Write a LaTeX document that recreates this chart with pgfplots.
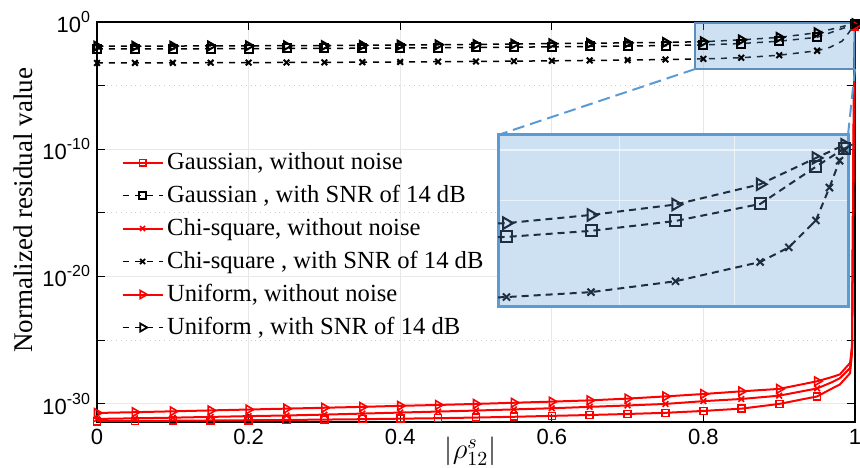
\documentclass[border=0pt]{standalone}
\usepackage{fontspec}
\setmainfont{Liberation Serif}
\setsansfont{Liberation Sans}
\usepackage{pgfplots}
\pgfplotsset{compat=1.18}
\usepackage{pgfplotstable}

\definecolor{insetblue}{RGB}{91,155,213}
\definecolor{boxedge}{RGB}{96,140,186}
\definecolor{insetfill}{RGB}{206,225,242}
\definecolor{slate}{RGB}{30,46,64}
\newcommand{\tp}[1]{10\raisebox{5pt}{\fontsize{8}{9}\selectfont #1}}

\pgfplotstableread{
x y
0 4.17e-32
0.05 4.37e-32
0.1 4.57e-32
0.15 4.79e-32
0.2 5.01e-32
0.25 5.25e-32
0.3 5.62e-32
0.35 6.03e-32
0.4 6.61e-32
0.45 7.24e-32
0.5 8.13e-32
0.55 9.33e-32
0.6 1.10e-31
0.65 1.29e-31
0.7 1.55e-31
0.75 1.91e-31
0.8 2.69e-31
0.85 4.07e-31
0.9 9.55e-31
0.95 3.72e-30
0.97 1.6e-29
0.98 3.2e-29
0.9935 2.5e-28
0.996 1e-26
0.997 1e-18
0.998 1e-10
0.999 1e-4
1 0.45
}\redG

\pgfplotstableread{
x y
0 6.31e-32
0.05 7.08e-32
0.1 7.94e-32
0.15 9.12e-32
0.2 1.05e-31
0.25 1.18e-31
0.3 1.38e-31
0.35 1.66e-31
0.4 2.00e-31
0.45 2.40e-31
0.5 2.88e-31
0.55 3.55e-31
0.6 4.37e-31
0.65 5.62e-31
0.7 7.24e-31
0.75 9.55e-31
0.8 1.58e-30
0.85 2.34e-30
0.9 4.27e-30
0.95 1.58e-29
0.97 5.0e-29
0.98 1.0e-28
0.9935 6.3e-28
0.996 1.6e-26
0.997 1e-18
0.998 1e-10
0.999 1e-4
1 0.5
}\redC

\pgfplotstableread{
x y
0 1.86e-31
0.05 2.14e-31
0.1 2.51e-31
0.15 2.95e-31
0.2 3.47e-31
0.25 4.07e-31
0.3 4.79e-31
0.35 5.62e-31
0.4 6.76e-31
0.45 7.94e-31
0.5 9.55e-31
0.55 1.18e-30
0.6 1.45e-30
0.65 1.82e-30
0.7 2.51e-30
0.75 3.72e-30
0.8 5.75e-30
0.85 9.33e-30
0.9 1.45e-29
0.95 5.75e-29
0.97 1.26e-28
0.98 2.0e-28
0.9935 1.6e-27
0.996 3.16e-26
0.997 1e-18
0.998 1e-10
0.999 1e-4
1 0.55
}\redU

\pgfplotstableread{
x y
0 0.00759
0.05 0.00759
0.1 0.00776
0.15 0.00794
0.2 0.00813
0.25 0.00832
0.3 0.00851
0.35 0.00871
0.4 0.00912
0.45 0.00955
0.5 0.0100
0.55 0.0105
0.6 0.0112
0.65 0.0120
0.7 0.0129
0.75 0.0141
0.8 0.0158
0.85 0.0204
0.9 0.0309
0.95 0.0631
0.983 0.302
1 0.661
}\blkG

\pgfplotstableread{
x y
0 6.03e-4
0.05 6.03e-4
0.1 6.17e-4
0.15 6.31e-4
0.2 6.46e-4
0.25 6.61e-4
0.3 6.76e-4
0.35 6.92e-4
0.4 7.24e-4
0.45 7.59e-4
0.5 7.94e-4
0.55 8.32e-4
0.6 8.91e-4
0.65 9.55e-4
0.7 1.02e-3
0.75 1.12e-3
0.8 1.26e-3
0.85 1.55e-3
0.9 2.45e-3
0.95 5.50e-3
0.967 1.02e-2
0.983 3.16e-2
0.991 0.126
0.997 0.389
1 0.603
}\blkC

\pgfplotstableread{
x y
0 0.0126
0.05 0.0126
0.1 0.0129
0.15 0.0132
0.2 0.0135
0.25 0.0138
0.3 0.0141
0.35 0.0148
0.4 0.0155
0.45 0.0162
0.5 0.0174
0.55 0.0186
0.6 0.0200
0.65 0.0214
0.7 0.0229
0.75 0.0251
0.8 0.0282
0.85 0.0398
0.9 0.0617
0.95 0.1445
0.983 0.437
1 0.759
}\blkU

\begin{document}
\begin{tikzpicture}
\begin{axis}[
  name=main,
  scale only axis, width=379pt, height=200pt,
  xmin=0, xmax=1, ymode=log, ymin=3.63e-32, ymax=1,
  xtick={0,0.2,0.4,0.6,0.8,1}, xticklabels={0,0.2,0.4,0.6,0.8,1},
  ytick={1e-30,1e-20,1e-10,1},
  yticklabels={\tp{-30},\tp{-20},\tp{-10},\tp{0}},
  minor ytick={1e-25,1e-15,1e-5},
  grid=both,
  major grid style={gray!18, line width=0.5pt},
  minor grid style={gray!40, dotted, line width=0.5pt},
  tick align=inside, major tick length=3.8pt, minor tick length=3.8pt,
  tick style={black, line width=0.5pt},
  axis line style={black, line width=0.6pt},
  ticklabel style={font=\sffamily\fontsize{11}{13}\selectfont},
  xlabel={$|\rho^{s}_{12}|$},
  xlabel style={at={(axis description cs:0.493,0)}, anchor=center, yshift=-14.75pt, font=\fontsize{14}{16}\selectfont},
  ylabel={Normalized residual value},
  ylabel style={at={(axis description cs:-0.0976,0.529)}, anchor=center, font=\fontsize{13.5}{15}\selectfont},
  legend cell align=left,
  legend style={at={(axis description cs:0.024,0.701)}, anchor=north west, draw=none, fill=none,
    font=\fontsize{12.3}{14}\selectfont, inner xsep=3pt, inner ysep=2pt,
    row sep=0pt, column sep=0pt,
    nodes={inner sep=1.75pt, text height=10pt, text depth=3pt}},
  legend image code/.code={\draw[mark repeat=2,mark phase=2,#1] plot coordinates {(0pt,0pt) (10pt,0pt) (20pt,0pt)};},
]
\addlegendimage{red, line width=1pt, mark=square, mark size=1.6pt, mark options={solid, line width=0.8pt}}
\addlegendentry{Gaussian, without noise}
\addlegendimage{black, line width=0.75pt, dash pattern=on 3pt off 3pt, mark=square, mark size=1.8pt, mark options={solid, line width=0.9pt}}
\addlegendentry{Gaussian , with SNR of 14 dB}
\addlegendimage{red, line width=1pt, mark=x, mark size=1.8pt, mark options={solid, line width=0.8pt}}
\addlegendentry{Chi-square, without noise}
\addlegendimage{black, line width=0.75pt, dash pattern=on 3pt off 3pt, mark=x, mark size=1.8pt, mark options={solid, line width=0.9pt}}
\addlegendentry{Chi-square , with SNR of 14 dB}
\addlegendimage{red, line width=1pt, mark=triangle, mark size=2.3pt, mark options={solid, rotate=-90, line width=0.8pt}}
\addlegendentry{Uniform, without noise}
\addlegendimage{black, line width=0.75pt, dash pattern=on 3pt off 3pt, mark=triangle, mark size=2.3pt, mark options={solid, rotate=-90, line width=0.9pt}}
\addlegendentry{Uniform , with SNR of 14 dB}

\addplot[red, line width=1pt, mark=square, mark size=1.75pt, mark options={solid, line width=0.8pt},
  mark indices={1,2,3,4,5,6,7,8,9,10,11,12,13,14,15,16,17,18,19,20,28}, forget plot] table[x=x,y=y] {\redG};
\addplot[black, line width=0.75pt, dash pattern=on 3pt off 3pt, mark=square, mark size=2pt, mark options={solid, line width=1pt},
  mark indices={1,2,3,4,5,6,7,8,9,10,11,12,13,14,15,16,17,18,19,20,22}, forget plot] table[x=x,y=y] {\blkG};
\addplot[red, line width=1pt, mark=x, mark size=2pt, mark options={solid, line width=0.8pt},
  mark indices={1,2,3,4,5,6,7,8,9,10,11,12,13,14,15,16,17,18,19,20,28}, forget plot] table[x=x,y=y] {\redC};
\addplot[black, line width=0.75pt, dash pattern=on 3pt off 3pt, mark=x, mark size=2pt, mark options={solid, line width=1pt},
  mark indices={1,2,3,4,5,6,7,8,9,10,11,12,13,14,15,16,17,18,19,20,25}, forget plot] table[x=x,y=y] {\blkC};
\addplot[red, line width=1pt, mark=triangle, mark size=2.5pt, mark options={solid, rotate=-90, line width=0.8pt},
  mark indices={1,2,3,4,5,6,7,8,9,10,11,12,13,14,15,16,17,18,19,20,28}, forget plot] table[x=x,y=y] {\redU};
\addplot[black, line width=0.75pt, dash pattern=on 3pt off 3pt, mark=triangle, mark size=2.5pt, mark options={solid, rotate=-90, line width=1pt},
  mark indices={1,2,3,4,5,6,7,8,9,10,11,12,13,14,15,16,17,18,19,20,22}, forget plot] table[x=x,y=y] {\blkU};

\draw[boxedge, line width=0.8pt, fill=insetblue, fill opacity=0.3] (axis cs:0.789,2e-4) rectangle (axis cs:1,0.83);
\coordinate (bbl) at (axis cs:0.789,2e-4);
\coordinate (bbr) at (axis cs:1,2e-4);
\end{axis}

\begin{axis}[
  name=ins, at={(200.5pt,57.5pt)}, anchor=south west,
  scale only axis, width=175pt, height=86pt,
  xmin=0.795, xmax=1.002, ymode=log, ymin=8.3e-4, ymax=1.148,
  xtick={0.867,0.935}, ytick={0.074,0.61},
  xticklabels={\relax,\relax}, yticklabels={\relax,\relax},
  tick style={draw=none},
  grid=major, major grid style={white, opacity=0.6, line width=0.6pt},
  axis background/.style={fill=insetfill},
  axis line style={insetblue, line width=1.5pt},
]
\addplot[slate, line width=1pt, dash pattern=on 3.5pt off 2.5pt, mark=square, mark size=2.75pt, mark options={solid, line width=1pt},
  mark indices={1,2,3,4,5,6,7,8,9,10,11,12,13,14,15,16,17,18,19,20,22}] table[x=x,y=y] {\blkG};
\addplot[slate, line width=1pt, dash pattern=on 3.5pt off 2.5pt, mark=x, mark size=2.5pt, mark options={solid, line width=1pt},
  mark indices={1,2,3,4,5,6,7,8,9,10,11,12,13,14,15,16,17,18,19,20,25}] table[x=x,y=y] {\blkC};
\addplot[slate, line width=1pt, dash pattern=on 3.5pt off 2.5pt, mark=triangle, mark size=3.3pt, mark options={solid, rotate=-90, line width=1pt},
  mark indices={1,2,3,4,5,6,7,8,9,10,11,12,13,14,15,16,17,18,19,20,22}] table[x=x,y=y] {\blkU};
\end{axis}

\draw[insetblue, line width=1pt, dash pattern=on 6pt off 3pt] (bbl) -- (ins.north west);
\draw[insetblue, line width=1pt, dash pattern=on 6pt off 3pt] (bbr) -- (ins.north east);

\pgfresetboundingbox
\path[use as bounding box] ([shift={(-48.5pt,-23pt)}]main.south west) rectangle ([shift={(2.5pt,11pt)}]main.north east);
\end{tikzpicture}
\end{document}
